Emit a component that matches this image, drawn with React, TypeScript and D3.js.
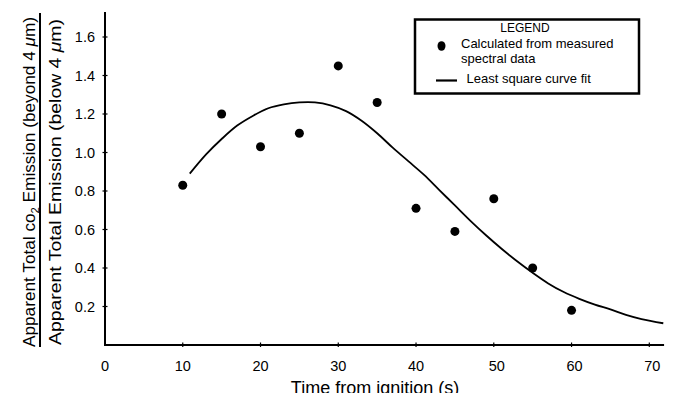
import React, { useEffect, useRef } from 'react';
import * as d3 from 'd3';

// measured points
const times = [10, 15, 20, 25, 30, 35, 40, 45, 50, 55, 60];
const ratios = [0.83, 1.2, 1.03, 1.1, 1.45, 1.26, 0.71, 0.59, 0.76, 0.4, 0.18];

// least square fit curve
const fitTimes = [10.9, 13, 15, 17, 19, 21, 23, 25, 27, 29, 31, 33, 35, 37, 39, 41, 43, 45, 47, 49, 51, 53, 55, 57, 59, 61, 63, 65, 67, 69, 71.8];
const fitRatios = [0.89, 0.99, 1.07, 1.14, 1.19, 1.23, 1.25, 1.26, 1.26, 1.245, 1.215, 1.165, 1.1, 1.025, 0.955, 0.885, 0.805, 0.725, 0.645, 0.57, 0.5, 0.435, 0.375, 0.32, 0.275, 0.24, 0.21, 0.185, 0.157, 0.135, 0.113];

const xTicks = [0, 10, 20, 30, 40, 50, 60, 70];
const yTicks = [0.2, 0.4, 0.6, 0.8, 1.0, 1.2, 1.4, 1.6];

const FONT = 'Liberation Sans, Arial, Helvetica, sans-serif';

export default function App() {
  const svgRef = useRef<SVGSVGElement>(null);

  useEffect(() => {
    const width = 676;
    const height = 401;
    const svg = d3.select(svgRef.current);
    svg.selectAll('*').remove();
    svg.attr('width', width).attr('height', height).style('display', 'block');

    const x = d3.scaleLinear().domain([0, 70]).range([105, 649.3]);
    const y = d3.scaleLinear().domain([0, 1.6]).range([345, 37]);

    const g = svg.append('g').style('font-family', FONT);

    // axes lines
    g.append('line')
      .attr('x1', x(0)).attr('x2', x(0))
      .attr('y1', y(1.73)).attr('y2', y(0))
      .attr('stroke', 'black').attr('stroke-width', 2);
    g.append('line')
      .attr('x1', x(0) - 1).attr('x2', x(71.9))
      .attr('y1', y(0)).attr('y2', y(0))
      .attr('stroke', 'black').attr('stroke-width', 2);

    // y ticks
    g.selectAll('.ytick')
      .data(yTicks)
      .enter()
      .append('line')
      .attr('x1', x(0) - 2.5).attr('x2', x(0) + 2.5)
      .attr('y1', d => y(d)).attr('y2', d => y(d))
      .attr('stroke', 'black').attr('stroke-width', 1.2);
    g.selectAll('.ylab')
      .data(yTicks)
      .enter()
      .append('text')
      .attr('x', 95)
      .attr('y', d => y(d) + 5)
      .attr('text-anchor', 'end')
      .style('font-size', '14.5px')
      .text(d => d.toFixed(1));

    // x ticks
    g.selectAll('.xtick')
      .data(xTicks.filter(d => d > 0))
      .enter()
      .append('line')
      .attr('x1', d => x(d)).attr('x2', d => x(d))
      .attr('y1', y(0) - 2.5).attr('y2', y(0) + 2)
      .attr('stroke', 'black').attr('stroke-width', 1.2);
    g.selectAll('.xlab')
      .data(xTicks)
      .enter()
      .append('text')
      .attr('x', d => x(d) + (d >= 50 ? 3 : 0))
      .attr('y', 371)
      .attr('text-anchor', 'middle')
      .style('font-size', '14.5px')
      .text(d => d);

    // x title
    g.append('text')
      .attr('x', 375)
      .attr('y', 394)
      .attr('text-anchor', 'middle')
      .style('font-size', '18px')
      .text('Time from ignition (s)');

    // y title as a fraction
    const num = g.append('text')
      .attr('transform', 'translate(35,182) rotate(-90)')
      .attr('text-anchor', 'middle')
      .attr('textLength', 330)
      .attr('lengthAdjust', 'spacingAndGlyphs')
      .style('font-size', '17px');
    num.append('tspan').text('Apparent Total co');
    num.append('tspan').attr('dy', 4).style('font-size', '11px').text('2');
    num.append('tspan').attr('dy', -4).text(' Emission (beyond 4 ');
    num.append('tspan').style('font-style', 'italic').text('μ');
    num.append('tspan').text('m)');

    g.append('line')
      .attr('x1', 40).attr('x2', 40)
      .attr('y1', 13).attr('y2', 347)
      .attr('stroke', 'black').attr('stroke-width', 2);

    const den = g.append('text')
      .attr('transform', 'translate(61,182) rotate(-90)')
      .attr('text-anchor', 'middle')
      .attr('textLength', 326)
      .attr('lengthAdjust', 'spacingAndGlyphs')
      .style('font-size', '17px');
    den.append('tspan').text('Apparent Total Emission (below 4 ');
    den.append('tspan').style('font-style', 'italic').text('μ');
    den.append('tspan').text('m)');

    // fit curve
    const line = d3.line<number>()
      .x((d, i) => x(fitTimes[i]))
      .y(d => y(d))
      .curve(d3.curveCatmullRom);
    g.append('path')
      .attr('d', line(fitRatios))
      .attr('fill', 'none')
      .attr('stroke', 'black')
      .attr('stroke-width', 1.8);

    // measured points
    g.selectAll('.pt')
      .data(ratios)
      .enter()
      .append('circle')
      .attr('cx', (d, i) => x(times[i]))
      .attr('cy', d => y(d))
      .attr('r', 4.5)
      .attr('fill', 'black');

    // legend
    g.append('rect')
      .attr('x', 415).attr('y', 19.5)
      .attr('width', 224).attr('height', 74)
      .attr('fill', 'white')
      .attr('stroke', 'black').attr('stroke-width', 2.5);
    g.append('text')
      .attr('x', 525).attr('y', 32)
      .attr('text-anchor', 'middle')
      .style('font-size', '12px')
      .text('LEGEND');
    g.append('ellipse')
      .attr('cx', 441.5).attr('cy', 46)
      .attr('rx', 4).attr('ry', 4.8)
      .attr('fill', 'black');
    g.append('text')
      .attr('x', 461).attr('y', 47.5)
      .style('font-size', '13px')
      .text('Calculated from measured');
    g.append('text')
      .attr('x', 461).attr('y', 63)
      .style('font-size', '13px')
      .text('spectral data');
    g.append('line')
      .attr('x1', 436).attr('x2', 457)
      .attr('y1', 80.5).attr('y2', 80.5)
      .attr('stroke', 'black').attr('stroke-width', 2.2);
    g.append('text')
      .attr('x', 466.5).attr('y', 83)
      .style('font-size', '13px')
      .text('Least square curve fit');
  }, []);

  return (
    <div style={{ margin: -8 }}>
      <svg ref={svgRef}></svg>
    </div>
  );
}
